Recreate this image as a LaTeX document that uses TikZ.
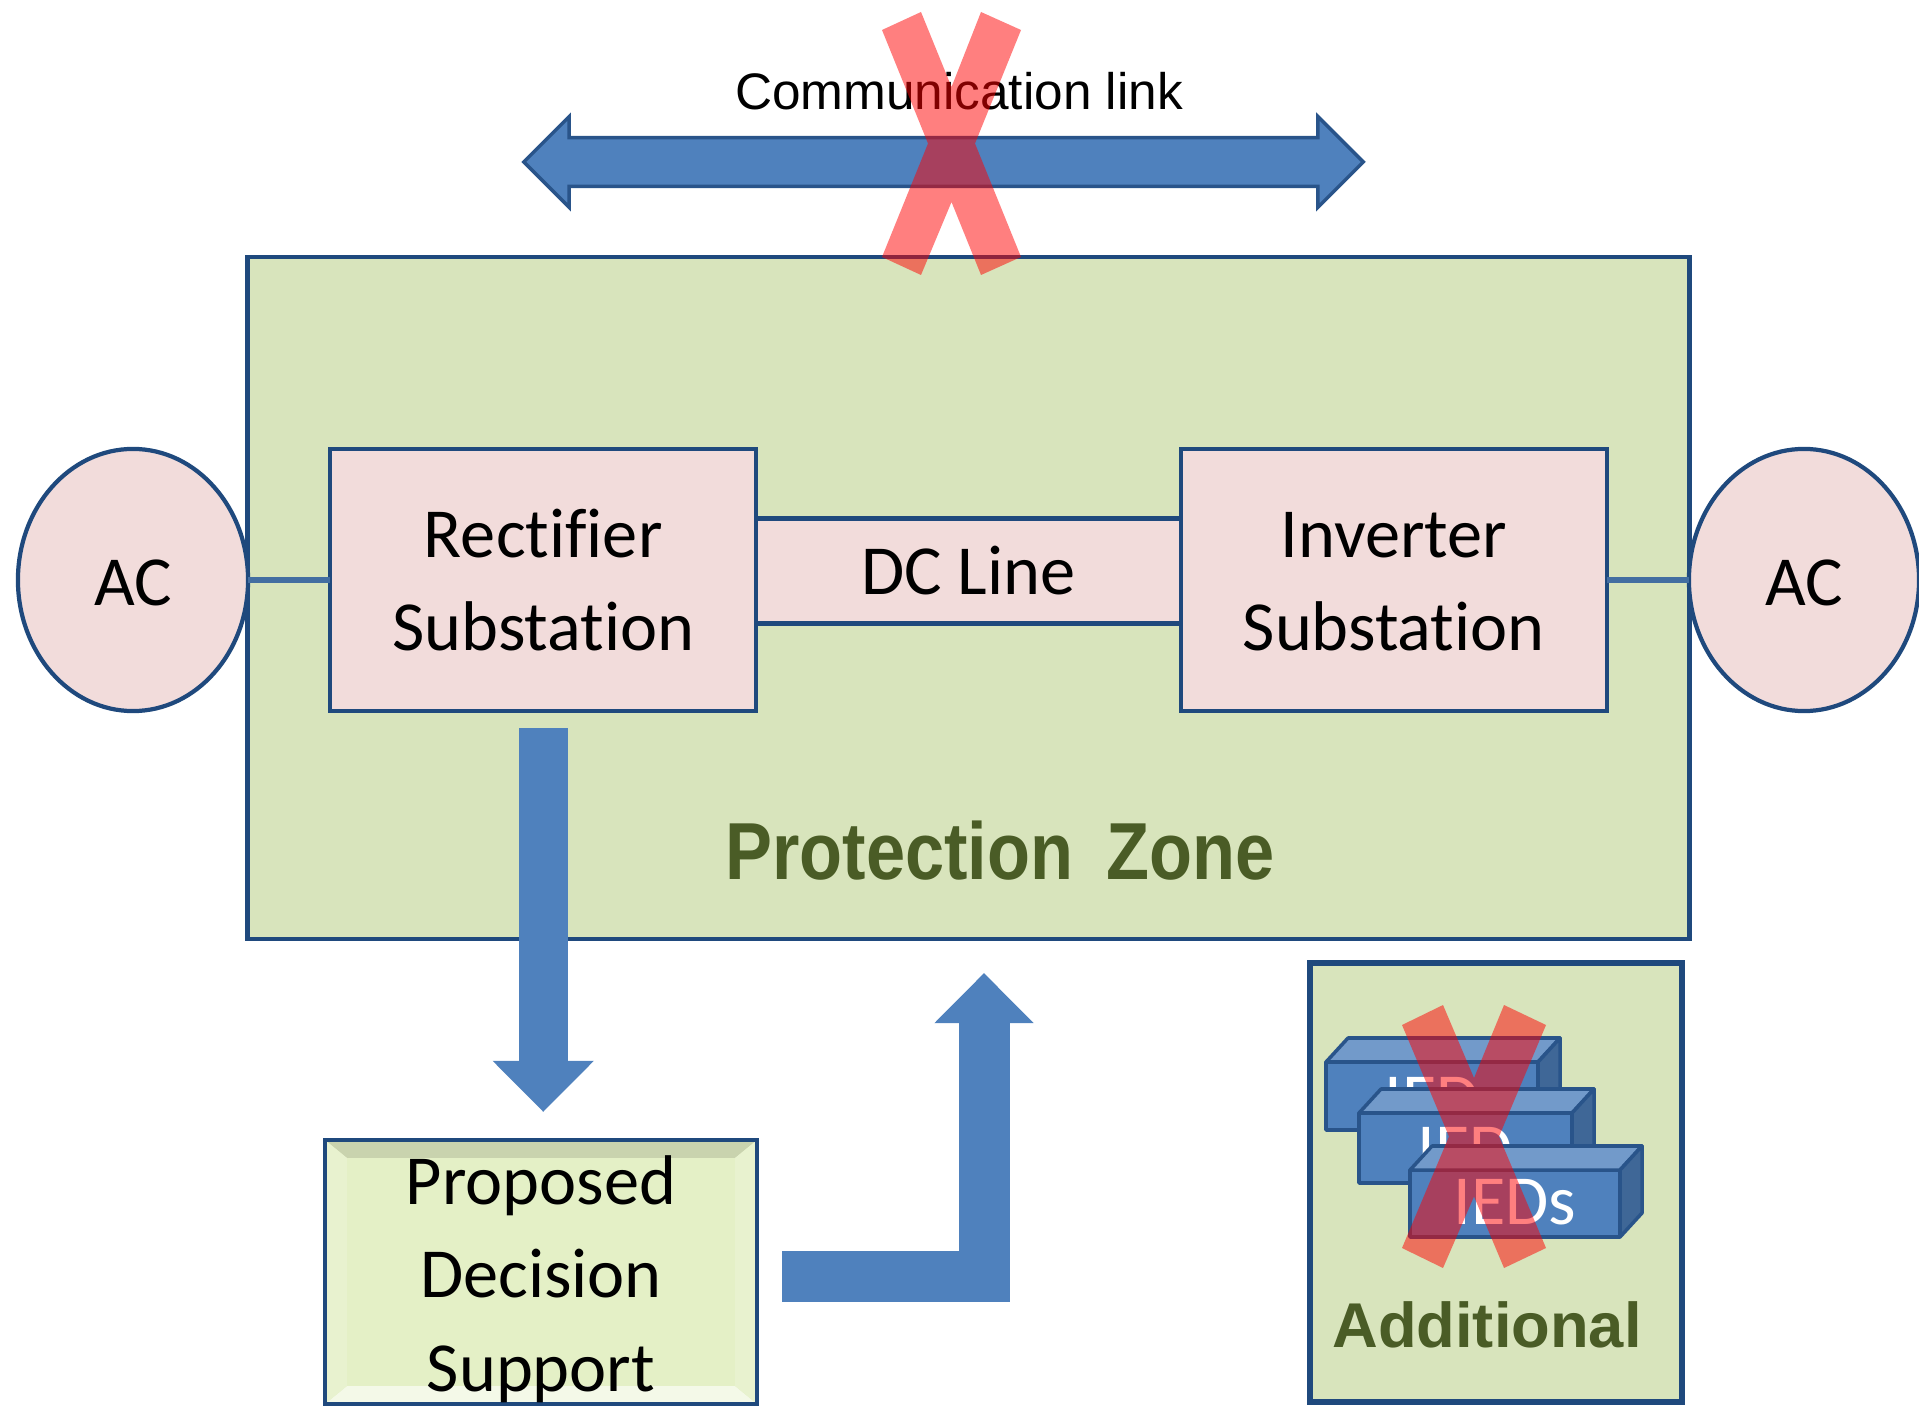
\documentclass[tikz,border=0pt]{standalone}
\usepackage{fontspec}
\setmainfont[Ligatures=NoCommon]{Carlito}
\newfontfamily\arialfont{Liberation Sans}
\newfontfamily\zonefont[FakeStretch=0.87]{Liberation Sans}
\usetikzlibrary{calc,chains,positioning,shapes.geometric,shapes.arrows,arrows.meta}
\definecolor{zonegreen}{HTML}{D8E4BC}
\definecolor{edgeblue}{HTML}{1F497D}
\definecolor{fillblue}{HTML}{4F81BD}
\definecolor{rosefill}{HTML}{F2DCDB}
\definecolor{olivetext}{HTML}{4A5C26}
\definecolor{bevelmid}{HTML}{E4F0C6}

\begin{document}
\begin{tikzpicture}[x=0.01cm,y=-0.01cm,
    every node/.style={outer sep=0pt},
    zonebox/.style={rectangle, draw=edgeblue, line width=1.2pt, fill=zonegreen, inner sep=0pt},
    station/.style={rectangle, draw=edgeblue, line width=1.2pt, fill=rosefill, align=center, minimum width=4.26cm, minimum height=2.62cm, inner sep=0pt, font=\fontsize{20}{26.5}\selectfont},
    dcbox/.style={station, minimum width=4.25cm, minimum height=1.05cm},
    acnode/.style={ellipse, draw=edgeblue, line width=1.2pt, fill=rosefill, minimum width=2.30cm, minimum height=2.62cm, inner sep=0pt, text height=0.52cm, font=\fontsize{20}{26.5}\selectfont},
    zonetext/.style={text=olivetext, font=\zonefont\bfseries\fontsize{23}{27}\selectfont},
    wire/.style={draw=fillblue!85!black, line width=1.5pt},
    cross/.style={fill=red, fill opacity=0.5},
    cuboid/.style={draw=edgeblue!80!fillblue, line width=1pt, line join=round},
    bevelbox/.style={rectangle, draw=edgeblue, line width=1.2pt, fill=bevelmid, align=center, inner sep=0pt, minimum width=4.32cm, minimum height=2.64cm, font=\fontsize{20}{26.5}\selectfont,
        path picture={
            \coordinate (pnw) at (path picture bounding box.north west);
            \coordinate (pne) at (path picture bounding box.north east);
            \coordinate (psw) at (path picture bounding box.south west);
            \coordinate (pse) at (path picture bounding box.south east);
            \fill[bevelmid!88!black] (pnw) -- (pne) -- ($(pne)+(-22,18)$) -- ($(pnw)+(22,18)$) -- cycle;
            \fill[bevelmid!40!white] (psw) -- (pse) -- ($(pse)+(-22,-18)$) -- ($(psw)+(22,-18)$) -- cycle;
            \fill[bevelmid!85!white] (pnw) -- (psw) -- ($(psw)+(22,-18)$) -- ($(pnw)+(22,18)$) -- cycle;
            \fill[bevelmid!85!white] (pne) -- (pse) -- ($(pse)+(-22,-18)$) -- ($(pne)+(-22,18)$) -- cycle;
        }},
    ]
    \useasboundingbox (0,0) rectangle (1919,1407);
    % Zone
    \node[zonebox, minimum width=14.41cm, minimum height=6.82cm] (zone) at (968.5,598) {};
    \node[zonetext] (zonelabel) at (1000,851) {Protection\, Zone};
    % Middle row
    \begin{scope}[start chain=going right, node distance=0.82cm]
        \node[acnode,on chain] (acl) at (133,580) {AC};
        \node[station,on chain] (rect) {Rectifier\\Substation};
        \node[station,node distance=4.24cm,on chain] (inv) {\vphantom{f}Inverter\\Substation};
        \node[acnode,on chain] (acr) {AC};
    \end{scope}
    \node[dcbox] (dcline) at ($(rect)!0.5!(inv)+(0,-9)$) {DC Line};
    \draw[wire] (acl) -- (rect);
    \draw[wire] (inv) -- (acr);
    % Decision support
    \node[bevelbox] (prop) at (541,1272) {\\[-0.30cm]Proposed\\Decision\\Support};
    % Block arrows
    \coordinate (uptip) at (984,939);
    \draw[fillblue, line width=14pt, -{Triangle[width=0.98cm,length=0.51cm]}, shorten <=0.17cm, shorten >=0.28cm] (rect.south) -- (rect.south |- prop.north);
    \draw[fillblue, line width=14.5pt, -{Triangle[width=0.96cm,length=0.50cm]}, shorten <=0.25cm, shorten >=0.34cm] (prop.east |- 0,1276) -| (uptip);
    % Communication link
    \node[double arrow, draw=edgeblue!80!fillblue, line width=1pt, fill=fillblue, minimum height=8.39cm, double arrow head extend=0.21cm, inner xsep=0pt, inner ysep=0.225cm, double arrow tip angle=90] (commlink) at (943.5,162) {};
    \node[font=\arialfont\fontsize{14.6}{18}\selectfont] (commlabel) at (959,91) {Communication link};
    \fill[cross] (921,12) -- (951.5,87) -- (981,12) -- (1021,30) -- (975,143.5) -- (1021,257) -- (981,275) -- (951.5,202) -- (921,275) -- (882,257) -- (928,143.5) -- (882,30) -- cycle;
    % Additional IEDs
    \node[zonebox, line width=1.6pt, minimum width=3.72cm, minimum height=4.39cm] (addbox) at (1496,1182.5) {};
    \foreach \xa/\xb/\ya/\yb/\tx/\ty [count=\i] in {1326/1538/1062/1130/IED/1100, 1359/1572/1113/1183/IED/1150, 1410/1620/1170/1237/IEDs/1202}{
        \draw[cuboid, fill=fillblue] (\xa,\ya) rectangle (\xb,\yb);
        \draw[cuboid, fill=fillblue!80!white] (\xa,\ya) -- ++(22,-24) -- ++(\xb-\xa,0) -- (\xb,\ya) -- cycle;
        \draw[cuboid, fill=fillblue!80!black] (\xb,\ya) -- ++(22,-24) -- ++(0,\yb-\ya) -- (\xb,\yb) -- cycle;
        \node[text=white, font=\fontsize{20}{26}\selectfont] (ied\i) at ({(\xa+\xb)/2},\ty) {\tx};
    }
    \node[text=olivetext, font=\arialfont\bfseries\fontsize{18}{20}\selectfont] (addlabel) at (1487,1325) {Additional};
    \fill[cross] (1443,1005) -- (1474,1078) -- (1504,1005) -- (1546,1025) -- (1499,1136.5) -- (1546,1248) -- (1504,1268) -- (1474,1196.5) -- (1443,1268) -- (1402,1248) -- (1449,1136.5) -- (1402,1025) -- cycle;
\end{tikzpicture}
\end{document}
